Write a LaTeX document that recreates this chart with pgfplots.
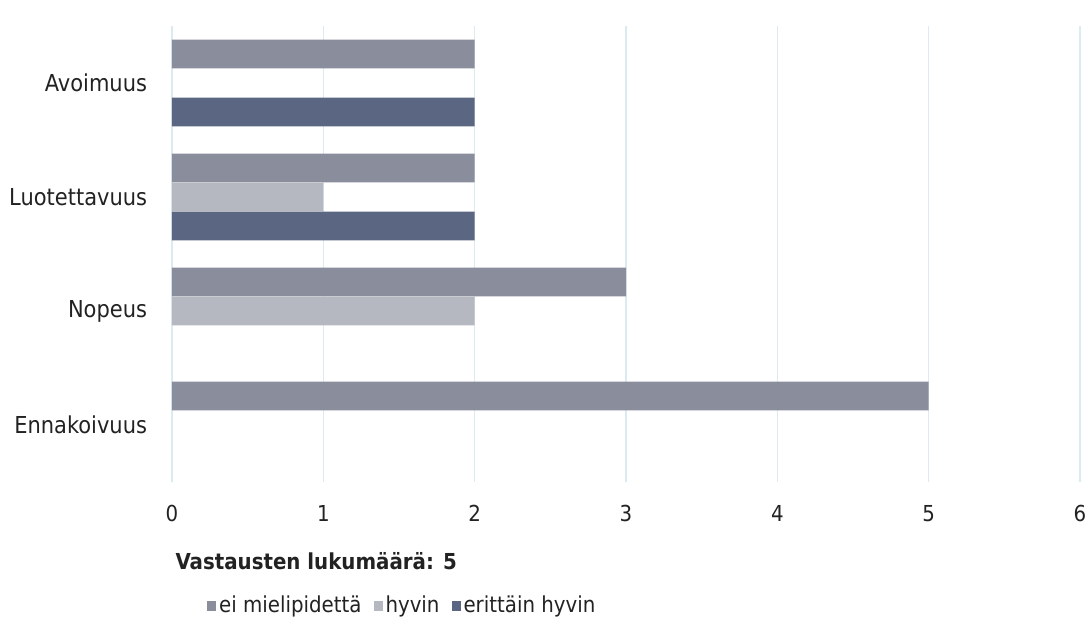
\documentclass[border=0pt]{standalone}
\usepackage{fontspec}
\setmainfont{DejaVu Sans Condensed}
\usepackage{pgfplots}
\pgfplotsset{compat=1.18}
\definecolor{cEi}{HTML}{8A8E9C}
\definecolor{cHyvin}{HTML}{B5B8C0}
\definecolor{cErit}{HTML}{5B6682}
\definecolor{cGrid}{HTML}{DCEBF2}
\definecolor{cText}{HTML}{222222}
\begin{document}
\fontsize{16.5pt}{19pt}\selectfont
\begin{tikzpicture}
\path[use as bounding box] (0,0) rectangle (817.5pt,462.75pt);
\begin{axis}[
  at={(129pt,101.25pt)}, anchor=south west,
  scale only axis, width=681pt, height=342pt,
  xbar, bar width=21.5pt,
  xmin=0, xmax=6, ymin=-0.5, ymax=3.5,
  xtick={0,1,2,3,4,5,6},
  ytick={0,1,2,3},
  yticklabels={Ennakoivuus,Nopeus,Luotettavuus,Avoimuus},
  axis line style={draw=none},
  major tick length=0pt,
  xmajorgrids, grid style={cGrid, line width=0.8pt},
  xticklabel style={font=\fontsize{16.5pt}{19pt}\selectfont, text=cText, yshift=-12pt},
  yticklabel style={font=\fontsize{17.5pt}{20pt}\selectfont, text=cText, xshift=-13pt},
  /pgf/number format/assume math mode=true,
  legend style={at={(0.034,-0.272)}, anchor=west, draw=none, fill=none,
    font=\fontsize{16.5pt}{19pt}\selectfont, text=cText,
    /tikz/every even column/.append style={column sep=7pt}},
  legend columns=3,
  legend image code/.code={\fill[#1] (-2pt,-3.5pt) rectangle (5pt,3.5pt);},
  clip=false,
]
\addplot[draw=none, fill=cEi, bar shift=21.75pt] coordinates {(5,0) (3,1) (2,2) (2,3)};
\addplot[draw=none, fill=cHyvin, bar shift=0pt] coordinates {(2,1) (1,2)};
\addplot[draw=none, fill=cErit, bar shift=-21.75pt] coordinates {(2,2) (2,3)};
\legend{ei mielipidettä, hyvin, erittäin hyvin}
\end{axis}
\node[anchor=west, text=cText, font=\bfseries\fontsize{16.5pt}{19pt}\selectfont] at (126pt,42pt) {Vastausten lukumäärä: 5};
\end{tikzpicture}
\end{document}
